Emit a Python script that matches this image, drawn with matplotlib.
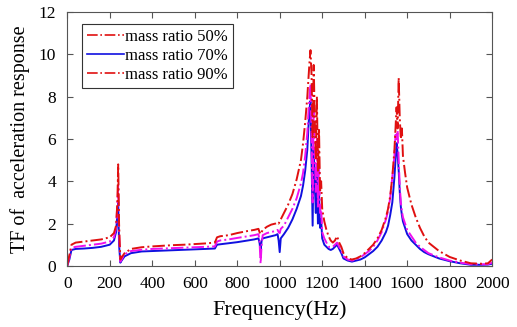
import matplotlib.pyplot as plt
from matplotlib.lines import Line2D

plt.rcParams['font.family'] = ['Liberation Serif', 'DejaVu Serif']

# Frequency grid (Hz)
freq = [0, 10, 20, 40, 80, 120, 160, 200, 220, 230, 236, 240, 244, 250, 256,
        270, 300, 350, 400, 450, 500, 550, 600, 650, 695,
        705, 720, 760, 800, 850, 880, 900, 905, 910, 915, 920, 940, 960, 980, 990, 995, 1000, 1005,
        1020, 1040, 1060, 1080, 1100, 1110, 1120, 1130, 1135, 1140, 1145, 1150, 1155, 1160,
        1165, 1170, 1175, 1180, 1185, 1190, 1195, 1200, 1210, 1220, 1230, 1240, 1250, 1260,
        1270, 1280, 1290, 1300,
        1320, 1340, 1360, 1380, 1400, 1420, 1440, 1460, 1480, 1500, 1510, 1520, 1530, 1540,
        1545, 1550, 1555, 1560, 1565, 1570, 1575, 1580, 1590, 1600,
        1620, 1640, 1660, 1680, 1700, 1750, 1800, 1850, 1900, 1950, 1980, 2000]

# mass ratio 50%
tf_50 = [0.0, 0.5, 1.0, 1.1, 1.15, 1.2, 1.25, 1.35, 1.55, 1.9, 3.0, 4.8, 2.0, 0.3, 0.4,
         0.6, 0.8, 0.88, 0.92, 0.95, 0.98, 1.0, 1.03, 1.06, 1.1,
         1.35, 1.4, 1.45, 1.55, 1.65, 1.7, 1.75, 1.6, 1.5, 1.6, 1.7, 1.85, 1.95, 2.0, 2.05, 2.0, 2.1, 2.2,
         2.5, 2.9, 3.4, 4.1, 5.0, 5.8, 6.8, 8.0, 8.8, 9.6, 10.2, 9.0, 6.0, 9.5,
         7.0, 5.0, 8.0, 4.5, 6.5, 3.5, 4.0, 2.7, 2.1, 1.7, 1.4, 1.2, 1.1, 1.2,
         1.4, 1.1, 0.9, 0.6,
         0.35, 0.3, 0.35, 0.45, 0.6, 0.8, 1.0, 1.3, 1.7, 2.3, 2.7, 3.3, 4.2, 5.5,
         6.5, 7.5, 6.5, 8.9, 7.0, 6.0, 6.5, 5.2, 4.4, 3.7,
         2.9, 2.3, 1.8, 1.4, 1.1, 0.7, 0.42, 0.25, 0.12, 0.1, 0.12, 0.3]

# mass ratio 70%
tf_70 = [0.0, 0.3, 0.75, 0.8, 0.82, 0.85, 0.9, 1.0, 1.2, 1.6, 2.4, 3.0, 1.0, 0.15, 0.25,
         0.45, 0.6, 0.68, 0.7, 0.72, 0.74, 0.76, 0.78, 0.8, 0.82,
         1.0, 1.02, 1.07, 1.12, 1.2, 1.25, 1.3, 1.1, 0.7, 1.2, 1.3, 1.35, 1.4, 1.45, 1.5, 1.2, 0.65, 1.3,
         1.5, 1.8, 2.2, 2.7, 3.3, 3.8, 4.5, 5.5, 6.5, 7.4, 7.8, 5.0, 1.9, 5.5,
         4.0, 2.5, 4.5, 2.0, 3.5, 1.8, 2.2, 1.3, 1.0, 0.9, 0.8, 0.75, 0.8, 0.9,
         1.0, 0.8, 0.6, 0.35,
         0.25, 0.2, 0.25, 0.3, 0.4, 0.55, 0.7, 0.9, 1.2, 1.6, 1.9, 2.4, 3.0, 4.2,
         5.0, 5.8, 5.3, 4.5, 3.5, 2.8, 2.4, 2.1, 1.8, 1.5,
         1.2, 1.0, 0.8, 0.65, 0.55, 0.35, 0.22, 0.12, 0.05, 0.05, 0.06, 0.1]

# mass ratio 90%
tf_90 = [0.0, 0.4, 0.85, 0.9, 0.95, 1.0, 1.05, 1.15, 1.35, 1.8, 2.9, 3.8, 1.5, 0.2, 0.3,
         0.55, 0.7, 0.76, 0.8, 0.82, 0.84, 0.86, 0.88, 0.9, 0.92,
         1.15, 1.2, 1.25, 1.32, 1.4, 1.45, 1.5, 1.2, 0.1, 1.0, 1.45, 1.55, 1.6, 1.65, 1.7, 1.6, 1.55, 1.75,
         1.9, 2.3, 2.7, 3.2, 3.9, 4.4, 5.2, 6.3, 7.2, 8.0, 8.6, 6.0, 3.0, 7.5,
         5.5, 3.5, 6.0, 2.8, 4.8, 2.5, 2.8, 1.6, 1.3, 1.1, 0.9, 0.9, 0.9, 1.0,
         1.1, 0.9, 0.7, 0.45,
         0.3, 0.25, 0.3, 0.4, 0.55, 0.7, 0.9, 1.2, 1.6, 2.2, 2.6, 3.2, 4.2, 5.2,
         6.2, 6.0, 6.4, 5.0, 3.8, 3.0, 2.6, 2.3, 2.0, 1.7,
         1.4, 1.1, 0.9, 0.75, 0.6, 0.4, 0.25, 0.15, 0.08, 0.07, 0.08, 0.15]

labels = ['mass ratio 50%', 'mass ratio 70%', 'mass ratio 90%']

fig = plt.figure(figsize=(5.17, 3.27), dpi=100)
ax = fig.add_axes([0.13, 0.187, 0.822, 0.776])

ax.plot(freq, tf_70, color='#1010e0', linestyle='-', linewidth=1.4)
ax.plot(freq, tf_90, color='#ee10ee', linestyle='-.', linewidth=1.4)
ax.plot(freq, tf_50, color='#e01010', linestyle='-.', linewidth=1.4)

ax.set_xlim(0, 2000)
ax.set_ylim(0, 12)
ax.set_xticks(range(0, 2001, 200))
ax.set_yticks(range(0, 13, 2))
ax.tick_params(direction='in', top=True, right=True, labelsize=12.5, length=4, color='#555555')
ax.tick_params(axis='x', pad=7)
ax.tick_params(axis='y', pad=8)
for s in ax.spines.values():
    s.set_color('#555555')
    s.set_linewidth(0.8)

ax.set_xlabel('Frequency(Hz)', fontsize=16, labelpad=6)
ax.set_ylabel('TF of  acceleration response', fontsize=14.5, labelpad=6)

# legend as it appears in the figure (90% entry drawn red)
handles = [Line2D([], [], color='#e01010', linestyle='-.', linewidth=1.2),
           Line2D([], [], color='#1010e0', linestyle='-', linewidth=1.2),
           Line2D([], [], color='#e01010', linestyle='-.', linewidth=1.2)]
leg = ax.legend(handles, labels, loc='upper left', bbox_to_anchor=(0.035, 0.955),
                fontsize=12, fancybox=False, edgecolor='#333333', framealpha=1,
                handlelength=2.2, handletextpad=0.1, borderpad=0.3, labelspacing=0.2,
                borderaxespad=0)
leg.get_frame().set_linewidth(0.8)

fig.savefig('out.png', dpi=100)
